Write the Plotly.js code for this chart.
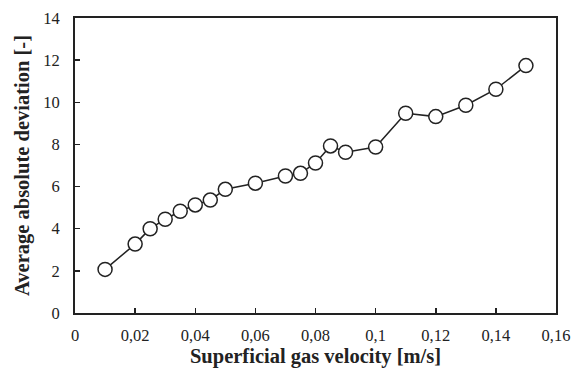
<!DOCTYPE html>
<html>
<head>
<meta charset="utf-8">
<script src="https://cdn.plot.ly/plotly-3.0.1.min.js"></script>
<style>html,body{margin:0;padding:0;background:#fff;}#chart{width:573px;height:370px;}</style>
</head>
<body>
<div id="chart"></div>
<script>
const velocity = [0.01, 0.02, 0.025, 0.03, 0.035, 0.04, 0.045, 0.05, 0.06, 0.07, 0.075, 0.08, 0.085, 0.09, 0.1, 0.11, 0.12, 0.13, 0.14, 0.15];
const deviation = [2.07, 3.27, 4.0, 4.45, 4.83, 5.13, 5.36, 5.87, 6.16, 6.5, 6.63, 7.12, 7.93, 7.63, 7.88, 9.48, 9.32, 9.86, 10.62, 11.74];
const xTickVals = [0, 0.02, 0.04, 0.06, 0.08, 0.1, 0.12, 0.14, 0.16];
const xTickText = ["0", "0,02", "0,04", "0,06", "0,08", "0,1", "0,12", "0,14", "0,16"];
const yTickVals = [0, 2, 4, 6, 8, 10, 12, 14];

const trace = {
  x: velocity, y: deviation, type: 'scatter', mode: 'lines+markers',
  line: {color: '#222', width: 1.5},
  marker: {size: 14, color: '#fff', line: {color: '#222', width: 1.5}},
  cliponaxis: false
};
const font = {family: '"Liberation Serif", "Times New Roman", serif', color: '#222'};
const layout = {
  width: 573, height: 370,
  margin: {l: 75, r: 17, t: 18, b: 57},
  paper_bgcolor: '#fff', plot_bgcolor: '#fff',
  font: Object.assign({size: 16}, font),
  showlegend: false,
  xaxis: {
    range: [0, 0.16], tickvals: xTickVals, ticktext: xTickText,
    ticks: 'inside', ticklen: 5, tickwidth: 1.5, tickcolor: '#222',
    showline: true, linecolor: '#222', linewidth: 2, mirror: true,
    showgrid: false, zeroline: false, ticklabelstandoff: 6,
    tickfont: Object.assign({size: 16.5}, font),
    title: {text: 'Superficial gas velocity [m/s]', font: Object.assign({size: 20.5, weight: 'bold'}, font), standoff: 3}
  },
  yaxis: {
    range: [0, 14], tickvals: yTickVals,
    ticks: 'inside', ticklen: 5, tickwidth: 1.5, tickcolor: '#222',
    showline: true, linecolor: '#222', linewidth: 2, mirror: true,
    showgrid: false, zeroline: false, ticklabelstandoff: 10,
    tickfont: Object.assign({size: 16.5}, font),
    title: {text: 'Average absolute deviation [-]', font: Object.assign({size: 20.5, weight: 'bold'}, font), standoff: 8}
  }
};
Plotly.newPlot('chart', [trace], layout, {displayModeBar: false, staticPlot: true});
</script>
</body>
</html>
